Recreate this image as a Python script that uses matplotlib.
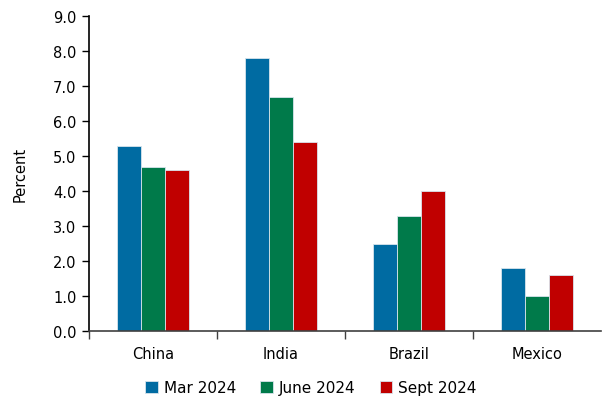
import matplotlib.pyplot as plt
import numpy as np

countries = ['China', 'India', 'Brazil', 'Mexico']
series_names = ['Mar 2024', 'June 2024', 'Sept 2024']
mar_2024 = [5.3, 7.8, 2.5, 1.8]
june_2024 = [4.7, 6.7, 3.3, 1.0]
sept_2024 = [4.6, 5.4, 4.0, 1.6]
colors = ['#006BA2', '#007A4A', '#C00000']

plt.rcParams['font.family'] = ['DejaVu Sans']

fig = plt.figure(figsize=(6.03, 4.02), dpi=100)
ax = fig.add_axes([89 / 603, 70 / 402, 512 / 603, 315 / 402])

x = np.arange(len(countries))
width = 0.19
for i, (vals, name) in enumerate(zip([mar_2024, june_2024, sept_2024], series_names)):
    ax.bar(x + (i - 1) * width, vals, width, color=colors[i], label=name,
           edgecolor='#d8e4ec', linewidth=0.6)

ax.set_xlim(-0.5, len(countries) - 0.5)
ax.set_ylim(0, 9)
ax.set_yticks(np.arange(0, 9.1, 1.0))
ax.set_yticklabels([f'{v:.1f}' for v in np.arange(0, 9.1, 1.0)])
ax.set_xticks(x)
ax.set_xticklabels(countries)
ax.set_xticks([-0.5, 0.5, 1.5, 2.5], minor=True)

ax.tick_params(axis='x', which='major', length=0, pad=11, labelsize=10.5)
ax.tick_params(axis='x', which='minor', length=6, width=1, color='#404040', direction='out')
ax.tick_params(axis='y', length=5, width=1, labelsize=10.5, direction='out', pad=4)

ax.spines['top'].set_visible(False)
ax.spines['right'].set_visible(False)
ax.spines['left'].set_color('black')
ax.spines['bottom'].set_color('#404040')
ax.spines['left'].set_linewidth(1.2)
ax.spines['bottom'].set_linewidth(1.2)

ax.set_ylabel('Percent', fontsize=10.5, labelpad=18)

fig.legend(loc='lower center', bbox_to_anchor=(311 / 603, -0.012), ncol=3, frameon=False,
           fontsize=11, handlelength=0.8, handleheight=0.8, handletextpad=0.4,
           columnspacing=1.6, borderpad=0.2)

fig.savefig('out.png', dpi=100)
